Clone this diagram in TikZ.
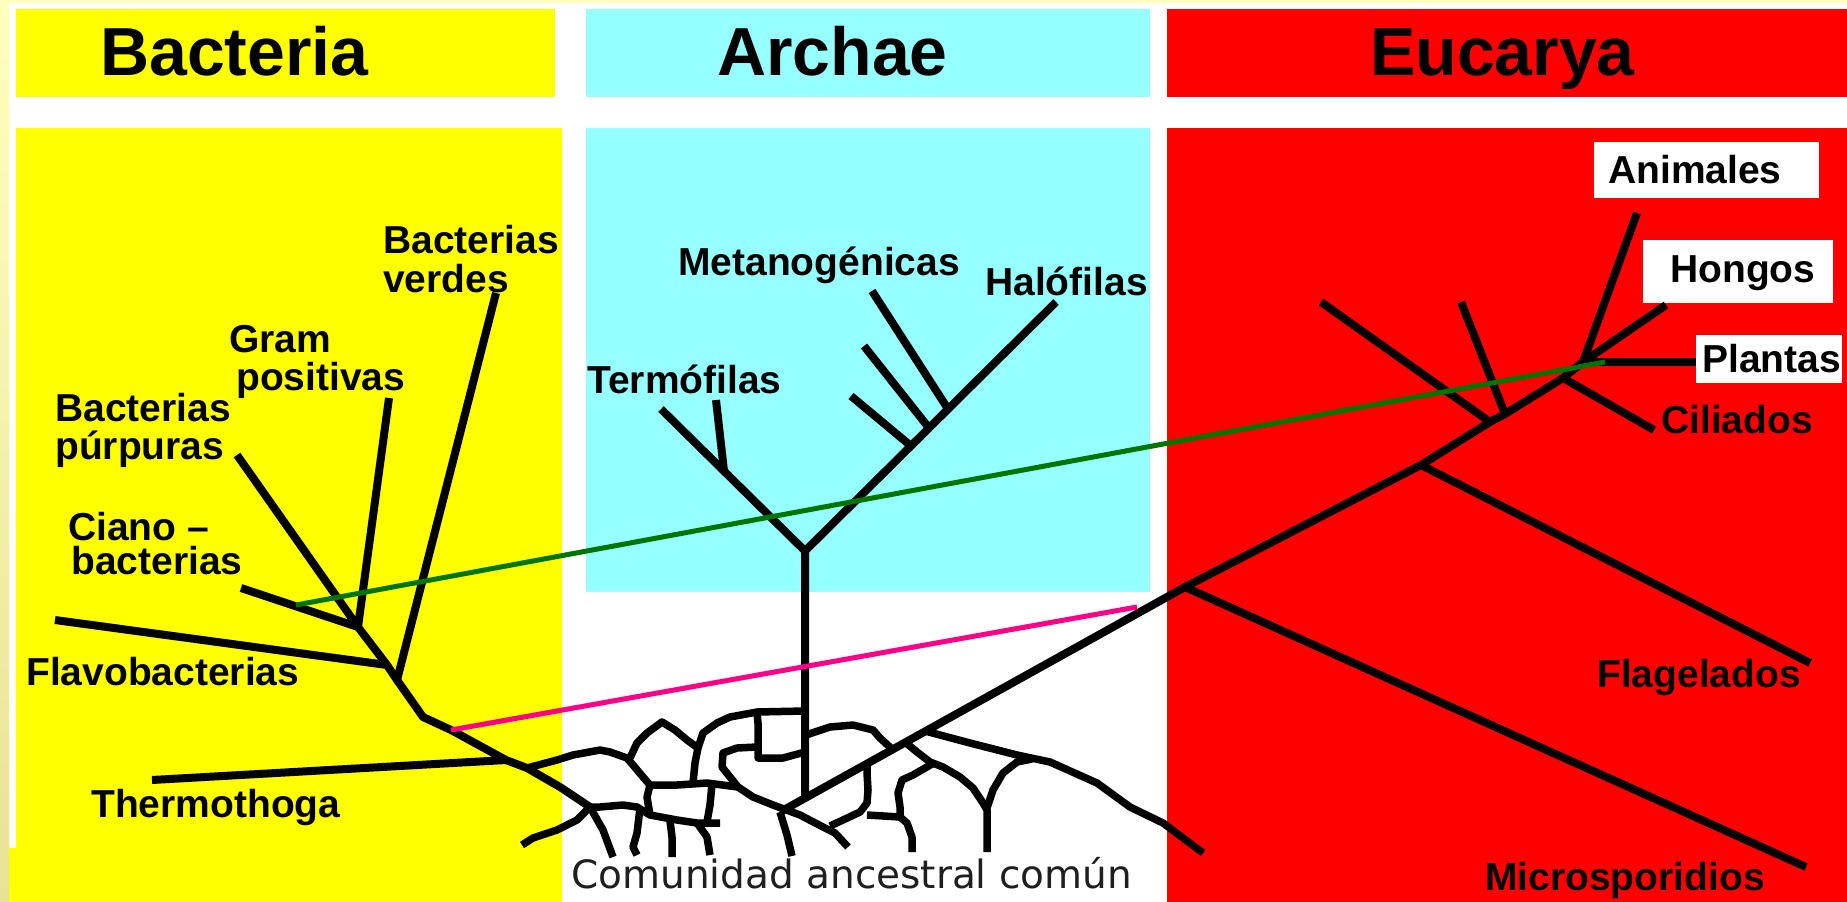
\documentclass[tikz,border=0pt]{standalone}
\usepackage{fontspec}
\setmainfont{Liberation Sans}
\newfontfamily\basefont{DejaVu Sans}
\definecolor{bactyellow}{RGB}{255,255,0}
\definecolor{archcyan}{RGB}{150,255,255}
\definecolor{eucared}{RGB}{255,0,0}
\definecolor{paleyellow}{RGB}{255,255,190}
\definecolor{khaki}{RGB}{232,226,150}
\definecolor{linkgreen}{RGB}{0,118,0}
\definecolor{linkpink}{RGB}{255,0,135}

\begin{document}
\begin{tikzpicture}[
  x=1pt,
  y=-1pt,
  bact/.style={fill=bactyellow},
  arch/.style={fill=archcyan},
  euca/.style={fill=eucared},
  tag/.style={fill=white},
  head/.style={font=\fontsize{68}{70}\selectfont\bfseries,anchor=base west,inner sep=0pt},
  lab/.style={font=\fontsize{39}{40}\selectfont\bfseries,anchor=base west,inner sep=0pt},
  branch/.style={line width=8pt,line join=round},
  web/.style={line width=7.5pt,line join=round},
  link/.style={line width=5pt}
]
\useasboundingbox (0,0) rectangle (1847,902);
\fill[white] (0,0) rectangle (1847,902);
\shade[top color=paleyellow,bottom color=khaki] (0,0) rectangle (9,902);
\fill[paleyellow] (0,0) rectangle (1847,3);

\path[bact] (16,9) rectangle (555,97);
\path[bact] (16,128) rectangle (562,902);
\path[bact] (9,848) rectangle (16,902);
\path[arch] (586,9) rectangle (1150,97);
\path[arch] (586,128) rectangle (1150,592);
\path[euca] (1167,9) rectangle (1847,97);
\path[euca] (1167,128) rectangle (1847,902);
\path[tag] (1594,142) rectangle (1819,198);
\path[tag] (1643,240) rectangle (1833,303);
\path[tag] (1696,335) rectangle (1842,383);

\node[head] (hBact) at (100,75) {Bacteria};
\node[head] (hArch) at (717,75) {Archae};
\node[head] (hEuca) at (1370,75) {Eucarya};

\node[lab] (tVerdesA) at (383,253) {Bacterias};
\node[lab] (tVerdesB) at (383,292) {verdes};
\node[lab] (tGramA) at (229,352) {Gram};
\node[lab] (tGramB) at (236,390) {positivas};
\node[lab] (tPurpA) at (55,421) {Bacterias};
\node[lab] (tPurpB) at (55,459) {púrpuras};
\node[lab] (tCianoA) at (68,540) {Ciano –};
\node[lab] (tCianoB) at (71,574) {bacterias};
\node[lab] (tFlavo) at (26,685) {Flavobacterias};
\node[lab] (tThermo) at (91,817) {Thermothoga};
\node[lab] (tMeta) at (678,275) {Metanogénicas};
\node[lab] (tHalo) at (985,295) {Halófilas};
\node[lab] (tTerm) at (587,393) {Termófilas};
\node[lab] (tAnim) at (1608,183) {Animales};
\node[lab] (tHong) at (1670,282) {Hongos};
\node[lab] (tPlant) at (1702,372) {Plantas};
\node[lab] (tCili) at (1661,433) {Ciliados};
\node[lab] (tFlag) at (1597,687) {Flagelados};
\node[lab] (tMicro) at (1485,890) {Microsporidios};
\node[anchor=base west,inner sep=0pt,font=\basefont\fontsize{39}{40}\selectfont,text=black!88] (tOrigin) at (571,888) {Comunidad ancestral común};

\coordinate (bJ) at (358,627);
\coordinate (bFlavoJ) at (387,665);
\coordinate (bVerdesJ) at (397,680);
\coordinate (bT) at (423,717);
\coordinate (bMagJ) at (451,730);
\coordinate (bThermoJ) at (506,760);
\coordinate (bX) at (590,807);
\coordinate (bVerdes) at (496,293);
\coordinate (bGram) at (389,398);
\coordinate (bPurp) at (237,455);
\coordinate (bCiano) at (241,588);
\coordinate (bFlavo) at (55,620);
\coordinate (bThermo) at (152,780);
\draw[branch] (bPurp) -- (bJ);
\draw[branch] (bCiano) -- (bJ);
\draw[branch] (bGram) -- (bJ);
\draw[branch] (bVerdes) -- (bVerdesJ);
\draw[branch] (bFlavo) -- (bFlavoJ);
\draw[branch] (bThermo) -- (bThermoJ);
\draw[branch] (bJ) -- (bFlavoJ) -- (bVerdesJ) -- (bT) -- (bMagJ) -- (bThermoJ) -- (527,768) -- (560,787) -- (bX);
\draw[web] (bX) -- (603,830) -- (613,857);

\coordinate (aFork) at (805,551);
\coordinate (aBase) at (805,799);
\coordinate (aLeft) at (661,409);
\coordinate (aTermJ) at (724,471);
\coordinate (aTerm) at (716,400);
\coordinate (aRight) at (1056,302);
\coordinate (aMetJa) at (948,409);
\coordinate (aMetA) at (872,291);
\coordinate (aMetJb) at (929,428);
\coordinate (aMetB) at (864,346);
\coordinate (aMetJc) at (911,446);
\coordinate (aMetC) at (851,396);
\draw[branch] (aBase) -- (aFork) -- (aLeft);
\draw[branch] (aFork) -- (aRight);
\draw[branch] (aTermJ) -- (aTerm);
\draw[branch] (aMetJa) -- (aMetA);
\draw[branch] (aMetJb) -- (aMetB);
\draw[branch] (aMetJc) -- (aMetC);

\coordinate (eLow) at (780,812);
\coordinate (eMicroJ) at (1185,587);
\coordinate (eFlagJ) at (1421,465);
\coordinate (eLeftJa) at (1490,422);
\coordinate (eLeftJb) at (1505,414);
\coordinate (eCiliJ) at (1563,378);
\coordinate (eTop) at (1583,362);
\coordinate (eMicro) at (1806,867);
\coordinate (eFlag) at (1810,663);
\coordinate (eLeftA) at (1321,302);
\coordinate (eLeftB) at (1461,302);
\coordinate (eCili) at (1654,430);
\coordinate (ePlant) at (1696,362);
\coordinate (eAnim) at (1637,213);
\coordinate (eHong) at (1666,305);
\draw[branch] (eLow) -- (eMicroJ) -- (eFlagJ) -- (eLeftJa) -- (eLeftJb) -- (eCiliJ) -- (eTop);
\draw[branch] (eMicroJ) -- (eMicro);
\draw[branch] (eFlagJ) -- (eFlag);
\draw[branch] (eLeftA) -- (eLeftJa);
\draw[branch] (eLeftB) -- (eLeftJb);
\draw[branch] (eCiliJ) -- (eCili);
\draw[branch] (eTop) -- (ePlant);
\draw[branch] (eTop) -- (eAnim);
\draw[branch] (eTop) -- (eHong);

\draw[web] (527,768) -- (557,760) -- (573,755) -- (600,750) -- (610,752) -- (627,758) -- (633,765) -- (643,777) -- (650,785);
\draw[web] (522,845) -- (533,838) -- (557,830) -- (577,820) -- (bX) -- (600,807) -- (623,805) -- (637,807) -- (650,815) -- (677,820) -- (697,823) -- (720,823);
\draw[web] (630,758) -- (637,743) -- (647,733) -- (662,722) -- (675,730) -- (687,740) -- (698,748) -- (695,763) -- (693,783);
\draw[web] (698,748) -- (703,733) -- (717,723) -- (730,717) -- (757,712) -- (805,711);
\draw[web] (757,712) -- (758,723) -- (758,758) -- (783,758) -- (805,752);
\draw[web] (757,747) -- (737,748) -- (723,753) -- (722,767) -- (730,777) -- (738,787) -- (753,797) -- (773,805) -- (800,815) -- (823,827) -- (835,833) -- (848,847);
\draw[web] (650,785) -- (677,785) -- (707,783) -- (738,787);
\draw[web] (650,785) -- (647,797) -- (650,815);
\draw[web] (640,808) -- (637,833) -- (633,847) -- (637,855);
\draw[web] (670,821) -- (672,837) -- (672,857);
\draw[web] (697,823) -- (707,837) -- (710,855);
\draw[web] (712,784) -- (710,805) -- (707,822);
\draw[web] (eLow) -- (787,835) -- (792,856);
\draw[web] (806,735) -- (830,727) -- (853,725) -- (873,730) -- (880,738) -- (892,749);
\draw[web] (925,731) -- (970,743) -- (1017,755) -- (1050,762) -- (1097,783) -- (1130,807) -- (1163,823) -- (1203,853);
\draw[web] (905,742) -- (917,752) -- (930,762) -- (943,767) -- (960,777) -- (973,788) -- (983,803) -- (987,810) -- (987,852);
\draw[web] (987,808) -- (993,790) -- (1003,773) -- (1017,762) -- (1032,759);
\draw[web] (932,764) -- (913,775) -- (902,780) -- (898,793) -- (900,807) -- (900,817) -- (907,823) -- (912,837) -- (912,852);
\draw[web] (867,764) -- (867,773) -- (868,790) -- (867,803) -- (860,812) -- (843,820) -- (830,826);
\draw[web] (867,815) -- (900,817);

\coordinate (gStart) at (296,605);
\coordinate (gEnd) at (1605,362);
\coordinate (mEnd) at (1137,607);
\draw[link,linkgreen] (gStart) -- (gEnd);
\draw[link,linkpink] (bMagJ) -- (mEnd);
\end{tikzpicture}
\end{document}
